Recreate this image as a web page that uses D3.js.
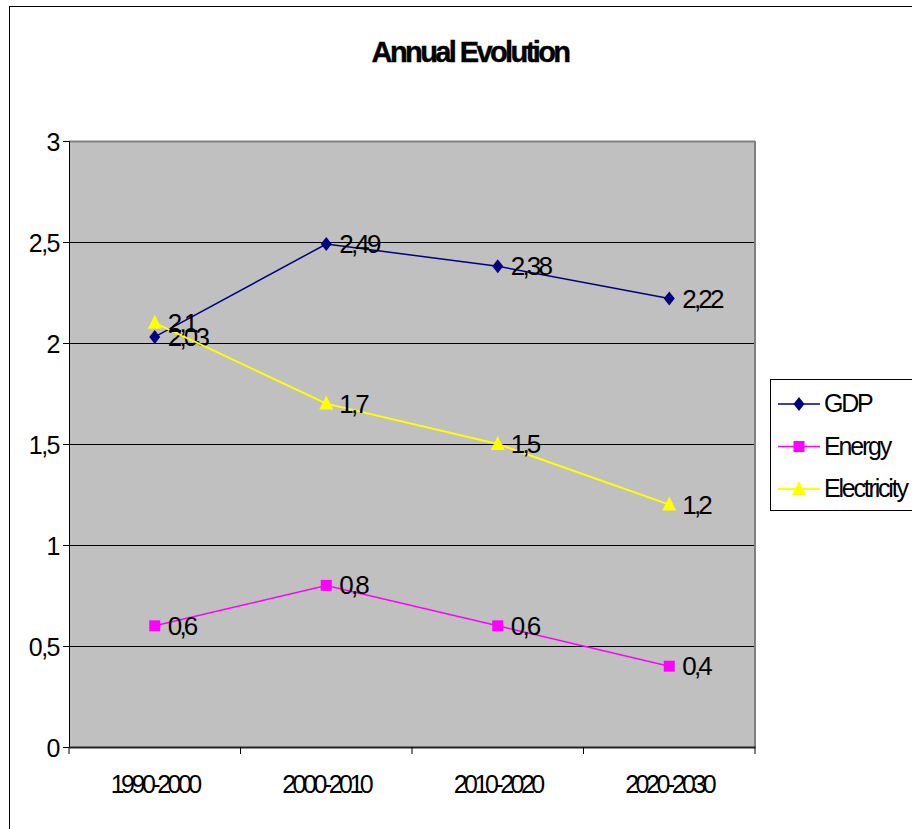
<!DOCTYPE html>
<html><head><meta charset="utf-8">
<script src="https://cdn.jsdelivr.net/npm/d3@7"></script>
<style>body{margin:0;background:#fff}svg{display:block;font-family:"Liberation Sans",Arial,sans-serif}</style>
</head><body><svg id="c" width="912" height="829"></svg>
<script>
const categories = ["1990-2000","2000-2010","2010-2020","2020-2030"];
const gdp = [2.03, 2.49, 2.38, 2.22];
const energy = [0.6, 0.8, 0.6, 0.4];
const electricity = [2.1, 1.7, 1.5, 1.2];
const yTicks = [0, 0.5, 1, 1.5, 2, 2.5, 3];
const seriesNames = ["GDP","Energy","Electricity"];
const seriesColors = ["#000080","#ff00ff","#ffff00"];
const series = [gdp, energy, electricity];

const diamond = {draw(ctx){ctx.moveTo(0,-7);ctx.lineTo(5.5,0);ctx.lineTo(0,7);ctx.lineTo(-5.5,0);ctx.closePath();}};
const square = {draw(ctx){ctx.rect(-5.5,-5.5,11,11);}};
const triangle = {draw(ctx){ctx.moveTo(0,-8);ctx.lineTo(7,6);ctx.lineTo(-7,6);ctx.closePath();}};
const seriesShapes = [diamond, square, triangle];

const svg = d3.select("#c");
const fmt = v => String(v).replace(".", ",");
svg.append("rect").attr("x",9.5).attr("y",6.5).attr("width",920).attr("height",840).attr("fill","#fff").attr("stroke","#000");

const L=69, R=755, T=141, B=747;
const x = d3.scaleBand().domain(categories).range([L,R]).padding(0);
const y = d3.scaleLinear().domain([0,3]).range([B,T]);

svg.append("rect").attr("x",L).attr("y",T).attr("width",R-L).attr("height",B-T).attr("fill","#c0c0c0");
svg.append("g").selectAll("line").data(yTicks.filter(v=>v>0&&v<3)).join("line")
  .attr("x1",L).attr("x2",R).attr("y1",d=>y(d)+0.5).attr("y2",d=>y(d)+0.5).attr("stroke","#000");
svg.append("line").attr("x1",L).attr("x2",R).attr("y1",T+0.5).attr("y2",T+0.5).attr("stroke","#808080").attr("stroke-width",2);
svg.append("line").attr("x1",R).attr("x2",R).attr("y1",T).attr("y2",B).attr("stroke","#808080").attr("stroke-width",2);

const ya = svg.append("g").attr("transform",`translate(${L},0)`)
  .call(d3.axisLeft(y).tickValues(yTicks).tickFormat(fmt).tickSize(6).tickPadding(4));
ya.select(".domain").attr("stroke","#000");
ya.selectAll("text").attr("font-size",25).attr("fill","#000").attr("dy","0.36em").style("letter-spacing","-1.5px");
const xa = svg.append("g").attr("transform",`translate(0,${B})`)
  .call(d3.axisBottom(x).tickSize(0).tickPadding(0));
xa.select(".domain").attr("stroke","#222").attr("stroke-width",2);
xa.selectAll("text").attr("font-size",25).attr("fill","#000").attr("dy",null).attr("y",46).style("letter-spacing","-3.5px");
xa.selectAll("line.bt").data(categories.concat([null])).join("line").attr("class","bt")
  .attr("x1",(d,i)=>i<categories.length?x(d):R).attr("x2",(d,i)=>i<categories.length?x(d):R)
  .attr("y1",0).attr("y2",7).attr("stroke","#000");

const cx = d => x(d)+x.bandwidth()/2;
series.forEach((vals,si)=>{
  const g = svg.append("g");
  const pts = categories.map((c,i)=>[cx(c), y(vals[i])]);
  g.append("path").attr("d",d3.line()(pts)).attr("fill","none").attr("stroke",seriesColors[si]).attr("stroke-width",si===2?2:1.5);
  g.selectAll("path.m").data(pts).join("path").attr("class","m")
    .attr("transform",d=>`translate(${d[0]},${d[1]})`)
    .attr("d",d3.symbol().type(seriesShapes[si])).attr("fill",seriesColors[si]);
  g.selectAll("text").data(vals).join("text")
    .attr("x",(d,i)=>cx(categories[i])+13).attr("y",(d,i)=>y(d)+9)
    .attr("font-size",26).attr("fill","#000").style("letter-spacing","-2.8px").text(fmt);
});

svg.append("text").attr("x",470).attr("y",62).attr("text-anchor","middle")
  .attr("font-size",29).attr("font-weight","bold").attr("stroke","#000").attr("stroke-width",0.4)
  .style("letter-spacing","-2.6px").text("Annual Evolution");

const lg = svg.append("g");
lg.append("rect").attr("x",770.5).attr("y",379.5).attr("width",160).attr("height",131).attr("fill","#fff").attr("stroke","#000");
seriesNames.forEach((n,i)=>{
  const yy = 404 + i*42.5;
  lg.append("line").attr("x1",778).attr("x2",820).attr("y1",yy).attr("y2",yy).attr("stroke",seriesColors[i]).attr("stroke-width",i===2?2:1.5);
  lg.append("path").attr("transform",`translate(799,${yy})`).attr("d",d3.symbol().type(seriesShapes[i])).attr("fill",seriesColors[i]);
  lg.append("text").attr("x",824).attr("y",yy+8).attr("font-size",25).style("letter-spacing","-2.2px").text(n);
});
</script></body></html>
